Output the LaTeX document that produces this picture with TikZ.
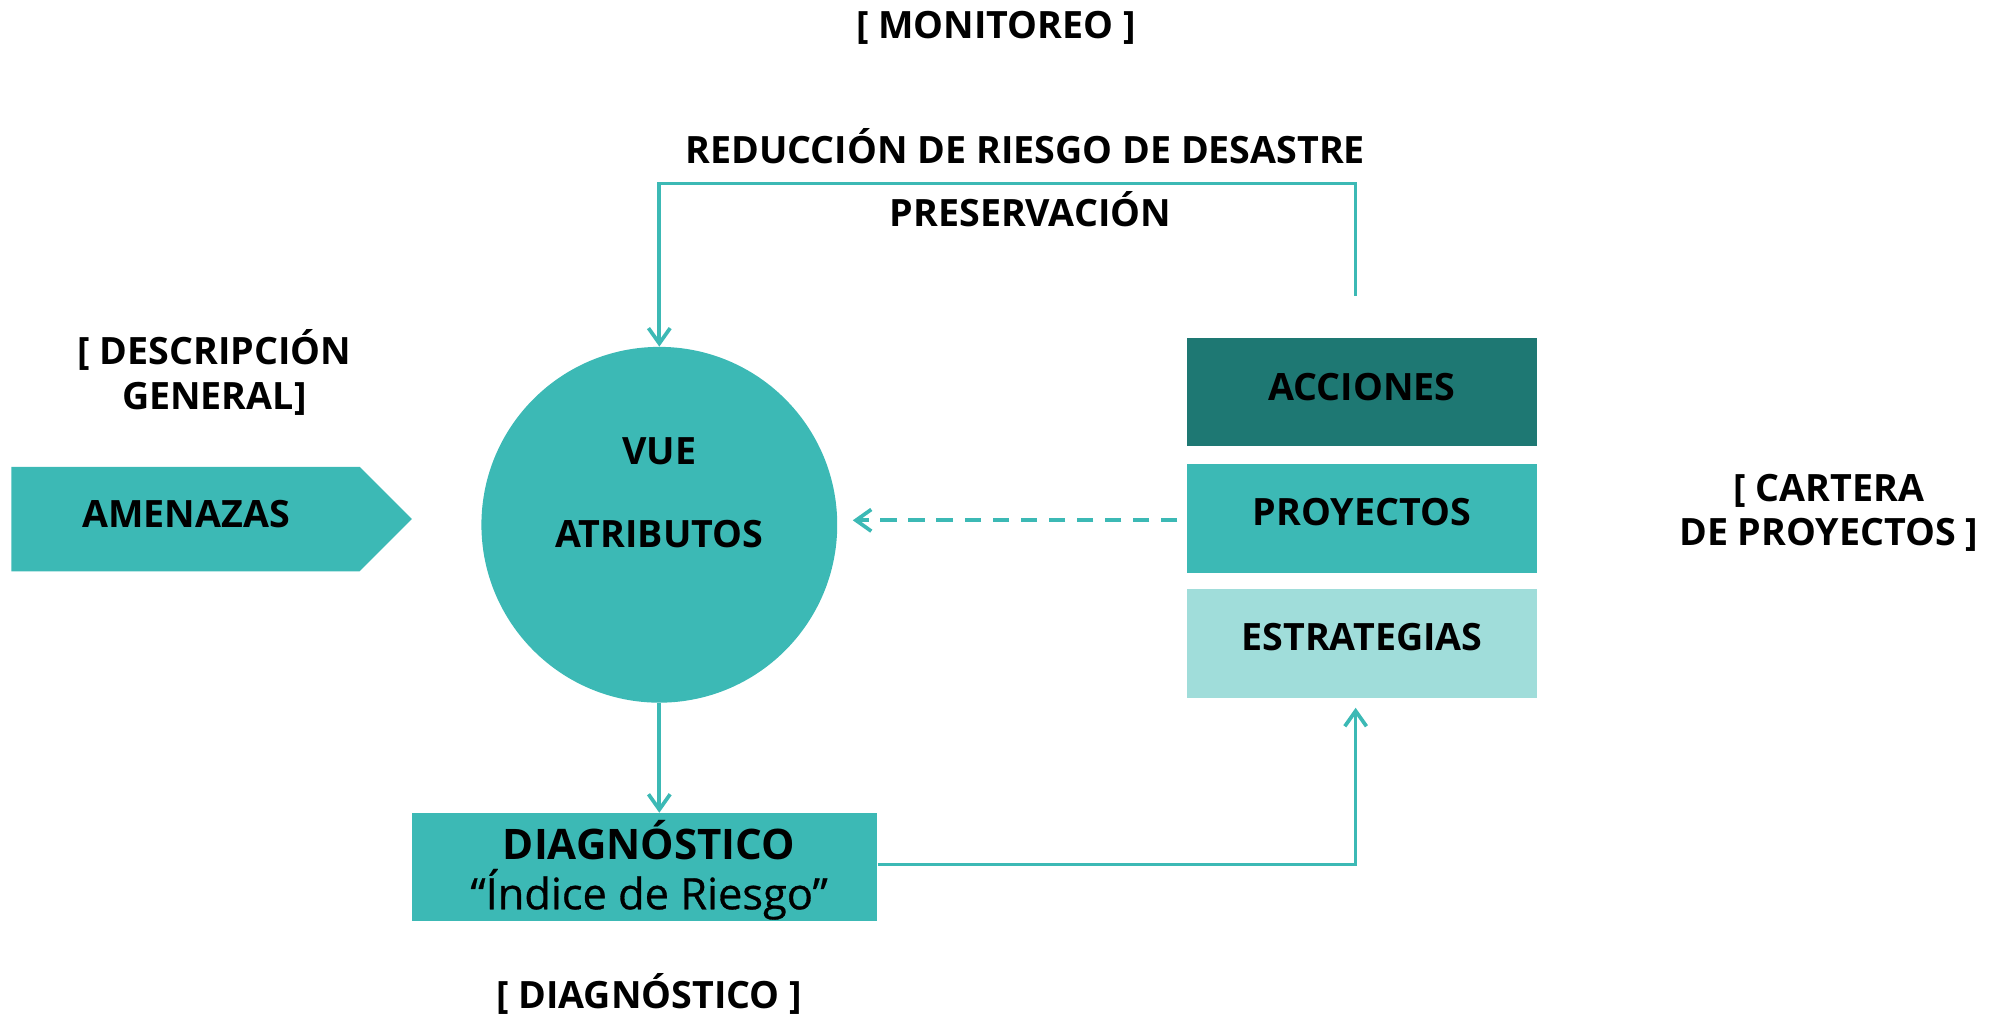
\documentclass[tikz,border=0pt]{standalone}
\usepackage{fontspec}
\setmainfont{Open Sans}
\newfontfamily\semifont{Open Sans}[FakeBold=0.7]
\usetikzlibrary{arrows.meta,calc}
\definecolor{tealdark}{HTML}{1E7873}
\definecolor{tealmid}{HTML}{3CB9B5}
\definecolor{teallight}{HTML}{A0DDDA}
\begin{document}
\begin{tikzpicture}[x=1pt,y=-1pt,
  lbl/.style={font=\bfseries\fontsize{29.5}{35}\selectfont, align=center, text=black, inner sep=0pt, anchor=base},
  boxst/.style={minimum width=274pt, minimum height=85pt, inner sep=0pt, draw=none},
  conn/.style={draw=tealmid, line width=2.9pt},
  tipend/.style={-{Straight Barb[length=12pt,width=17pt]}}]
\useasboundingbox (0,0) rectangle (1567.5,799.05);

% titles
\node[lbl] (mon) at (781,30) {[ MONITOREO ]};
\node[lbl] (rrd) at (804,128) {REDUCCIÓN DE RIESGO DE DESASTRE};
\node[lbl] (pres) at (808,178) {PRESERVACIÓN};
\node[lbl] (desc) at (168,321) {[ DESCRIPCIÓN\\GENERAL]};
\node[lbl] (cart) at (1434,428) {[ CARTERA\\DE PROYECTOS ]};
\node[lbl] (diagt) at (509,791) {[ DIAGNÓSTICO ]};

% amenazas arrow shape
\fill[tealmid] (9,366) -- (282,366) -- (323,407) -- (282,448) -- (9,448) -- cycle;
\node[lbl] (amen) at (146,414) {AMENAZAS};

% circle
\node[circle, fill=tealmid, minimum size=279pt, inner sep=0pt] (vue) at (517,411.5) {};
\node[lbl] (vuet) at (517,364) {VUE};
\node[lbl] (atr) at (517,429) {ATRIBUTOS};

% boxes
\node[boxst, fill=tealdark] (acc) at (1068,307.5) {};
\node[lbl] at (1068,314) {ACCIONES};
\node[boxst, fill=tealmid] (proj) at (1068,406.5) {};
\node[lbl] at (1068,412) {PROYECTOS};
\node[boxst, fill=teallight] (estr) at (1068,504.5) {};
\node[lbl] at (1068,510) {ESTRATEGIAS};

% diagnostico box
\node[fill=tealmid, minimum width=365pt, minimum height=85pt, inner sep=0pt] (diag) at (505.5,680) {};
\node[lbl, font=\bfseries\fontsize{33}{40}\selectfont] at (509,674) {DIAGNÓSTICO};
\node[lbl, font=\semifont\fontsize{34}{40}\selectfont] at (509,713) {“Índice de Riesgo”};

% connectors
\coordinate (loopstart) at (1063,232);
\coordinate (estrin) at (1063,555);
\draw[conn,tipend] (loopstart) -- (1063,144) -| (vue.north);
\draw[conn,tipend,dash pattern=on 13pt off 9pt] ($(proj.west)+(-7.5,1.5)$) -- ($(vue.east |- proj.west)+(12,1.5)$);
\draw[conn,tipend] (vue.south) -- (vue.south |- diag.north);
\draw[conn,tipend] (diag.east |- 0,678) -| (estrin);
\end{tikzpicture}
\end{document}
